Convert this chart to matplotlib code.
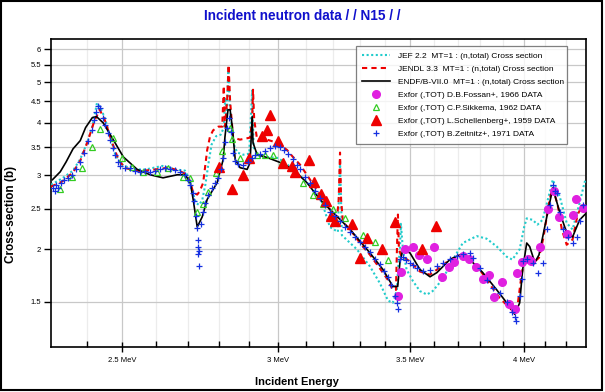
import matplotlib
matplotlib.use("Agg")
import matplotlib.pyplot as plt
from matplotlib.patches import Rectangle
from matplotlib.ticker import FixedLocator, NullFormatter, NullLocator

plt.rcParams['font.family'] = ['Liberation Sans', 'DejaVu Sans']

# ---- evaluated curves (MeV, barn) ----
jef_e = [2.30, 2.33, 2.36, 2.38, 2.40, 2.415, 2.427, 2.437, 2.45, 2.465, 2.48, 2.50, 2.53, 2.57,
         2.62, 2.66, 2.69, 2.705, 2.715, 2.725, 2.735, 2.745, 2.755, 2.765, 2.775, 2.79, 2.805,
         2.815, 2.82, 2.825, 2.83, 2.835, 2.845, 2.86, 2.88, 2.90, 2.91, 2.915, 2.93, 2.96, 3.00,
         3.05, 3.10, 3.15, 3.187, 3.217, 3.225, 3.232, 3.289, 3.340, 3.379, 3.411, 3.430, 3.447,
         3.451, 3.459, 3.463, 3.471, 3.486, 3.512, 3.541, 3.570, 3.594, 3.637, 3.680, 3.723,
         3.784, 3.828, 3.874, 3.919, 3.945, 3.979, 4.000, 4.012, 4.040, 4.063, 4.087, 4.121,
         4.136, 4.170, 4.204, 4.233, 4.268, 4.293, 4.30]
jef_s = [2.85, 2.95, 3.08, 3.28, 3.60, 3.95, 4.46, 4.35, 4.10, 3.70, 3.35, 3.18, 3.10, 3.10,
         3.16, 3.10, 3.08, 2.93, 2.72, 2.58, 2.55, 2.62, 2.85, 3.20, 3.55, 3.72, 3.75,
         3.90, 4.60, 4.20, 5.40, 4.40, 3.60, 3.40, 3.36, 3.38, 4.80, 3.50, 3.35, 3.32, 3.30,
         3.12, 2.90, 2.68, 2.26, 2.20, 3.27, 2.16, 2.00, 1.82, 1.66, 1.51, 1.49, 1.60,
         1.79, 2.00, 2.30, 2.00, 1.79, 1.68, 1.59, 1.56, 1.59, 1.70, 1.89, 2.07,
         2.15, 2.12, 2.03, 1.92, 1.89, 2.00, 2.26, 2.37, 2.35, 2.29, 2.35, 2.73,
         2.93, 2.67, 2.31, 2.23, 2.58, 2.89, 2.92]

jendl_e = [2.30, 2.33, 2.36, 2.38, 2.40, 2.42, 2.435, 2.45, 2.47, 2.49, 2.51, 2.55, 2.60, 2.64,
           2.67, 2.69, 2.705, 2.716, 2.729, 2.737, 2.748, 2.761, 2.770, 2.780, 2.797, 2.810,
           2.815, 2.819, 2.826, 2.831, 2.836, 2.846, 2.869, 2.903, 2.910, 2.913, 2.917, 2.927,
           2.961, 2.995, 3.031, 3.052, 3.078, 3.114, 3.150, 3.187, 3.214, 3.220, 3.225, 3.229,
           3.236, 3.263, 3.301, 3.340, 3.379, 3.411, 3.430, 3.443, 3.447, 3.451, 3.455, 3.463,
           3.499, 3.541, 3.582, 3.625, 3.667, 3.710, 3.753, 3.797, 3.843, 3.887, 3.933, 3.956,
           3.970, 3.988, 4.002, 4.026, 4.050, 4.070, 4.090, 4.121, 4.136, 4.160, 4.180, 4.204,
           4.233, 4.258, 4.283, 4.30]
jendl_s = [2.82, 2.90, 3.05, 3.25, 3.60, 4.05, 4.30, 4.05, 3.60, 3.25, 3.12, 3.07, 3.10, 3.13,
           3.08, 3.03, 2.92, 2.73, 2.70, 2.75, 2.88, 3.45, 3.71, 3.84, 3.92, 3.92,
           4.90, 3.92, 4.50, 5.50, 4.50, 3.69, 3.65, 3.69, 4.07, 4.80, 4.07, 3.65,
           3.65, 3.59, 3.45, 3.32, 3.18, 2.93, 2.70, 2.49, 2.38, 2.63, 3.40, 2.63,
           2.32, 2.23, 2.07, 1.94, 1.80, 1.69, 1.60, 1.60, 2.00, 2.42, 2.00, 1.94,
           1.87, 1.77, 1.74, 1.81, 1.89, 1.93, 1.91, 1.79, 1.65, 1.53, 1.45, 1.41,
           1.48, 1.74, 1.89, 1.91, 1.87, 1.91, 2.12, 2.63, 2.80, 2.55, 2.23, 2.05,
           2.11, 2.42, 2.55, 2.49]

endf_e = [2.304, 2.325, 2.341, 2.36, 2.380, 2.395, 2.414, 2.426, 2.445, 2.471, 2.503, 2.544,
          2.583, 2.622, 2.666, 2.691, 2.707, 2.716, 2.729, 2.745, 2.761, 2.793, 2.813, 2.819,
          2.829, 2.836, 2.843, 2.853, 2.869, 2.893, 2.903, 2.910, 2.913, 2.927, 2.961, 3.007,
          3.053, 3.103, 3.150, 3.187, 3.263, 3.340, 3.391, 3.431, 3.450, 3.459, 3.471, 3.500,
          3.541, 3.583, 3.612, 3.667, 3.710, 3.754, 3.811, 3.874, 3.933, 3.956, 3.979, 3.993,
          4.012, 4.026, 4.050, 4.070, 4.136, 4.170, 4.204, 4.233, 4.268, 4.298]
endf_s = [2.93, 3.06, 3.23, 3.47, 3.63, 3.90, 4.12, 4.14, 4.00, 3.68, 3.32, 3.10,
          3.01, 2.96, 3.01, 3.01, 2.88, 2.63, 2.26, 2.39, 2.63, 2.88, 3.27, 3.71,
          4.30, 4.30, 3.92, 3.27, 3.13, 3.10, 3.22, 4.14, 3.59, 3.36, 3.31, 3.22,
          3.10, 2.88, 2.63, 2.49, 2.23, 1.96, 1.79, 1.63, 1.63, 1.86, 2.00, 1.96,
          1.79, 1.72, 1.76, 1.89, 1.94, 1.89, 1.76, 1.60, 1.46, 1.40, 1.49, 1.79,
          2.07, 2.03, 1.86, 1.94, 2.80, 2.45, 2.19, 2.14, 2.35, 2.43]

# ---- EXFOR data ----
fossan_e = [3.453, 3.462, 3.480, 3.511, 3.538, 3.571, 3.599, 3.632, 3.664, 3.684, 3.725, 3.751,
            3.780, 3.810, 3.839, 3.861, 3.898, 3.930, 3.956, 3.967, 3.992, 4.018, 4.034, 4.074,
            4.113, 4.141, 4.166, 4.205, 4.235, 4.252, 4.285]
fossan_s = [1.55, 1.77, 2.00, 2.02, 1.94, 1.90, 2.03, 1.72, 1.81, 1.87, 1.93, 1.90,
            1.81, 1.70, 1.74, 1.54, 1.67, 1.48, 1.44, 1.76, 1.87, 1.90, 1.88, 2.03,
            2.49, 2.76, 2.39, 2.18, 2.41, 2.63, 2.51]

sikkema_e = [2.325, 2.358, 2.386, 2.414, 2.437, 2.474, 2.500, 2.529, 2.562, 2.604, 2.638, 2.685,
             2.707, 2.729, 2.748, 2.764, 2.790, 2.810, 2.836, 2.843, 2.869, 2.896, 2.927, 2.954,
             2.982, 3.013, 3.053, 3.089, 3.125, 3.161, 3.199, 3.244, 3.313, 3.360, 3.411]
sikkema_s = [2.79, 2.98, 3.13, 3.50, 3.86, 3.69, 3.30, 3.14, 3.06, 3.06, 3.13, 2.98,
             2.96, 2.45, 2.56, 2.74, 3.04, 3.42, 3.90, 3.66, 3.30, 3.27, 3.36, 3.36,
             3.36, 3.23, 3.13, 2.88, 2.70, 2.56, 2.49, 2.38, 2.16, 2.08, 1.89]

schell_e = [2.801, 2.842, 2.880, 2.900, 2.943, 2.960, 2.972, 3.000, 3.018, 3.048, 3.060, 3.111,
            3.128, 3.154, 3.172, 3.190, 3.207, 3.269, 3.301, 3.327, 3.386, 3.439, 3.548, 3.608]
schell_s = [3.14, 2.78, 3.00, 3.30, 3.73, 3.84, 4.17, 3.63, 3.21, 3.15, 3.05, 3.27,
            2.89, 2.71, 2.60, 2.40, 2.33, 2.30, 1.91, 2.13, 2.00, 2.32, 2.00, 2.27]

zeit_e = [2.305, 2.310, 2.314, 2.320, 2.326, 2.336, 2.347, 2.358, 2.369, 2.380, 2.391, 2.403,
          2.414, 2.420, 2.425, 2.431, 2.437, 2.444, 2.451, 2.458, 2.465, 2.472, 2.480, 2.487,
          2.494, 2.509, 2.523, 2.538, 2.553, 2.568, 2.583, 2.598, 2.613, 2.629, 2.644, 2.660,
          2.675, 2.691, 2.700, 2.707, 2.714, 2.720, 2.725, 2.728, 2.730, 2.732, 2.734, 2.731,
          2.735, 2.742, 2.748, 2.754, 2.764, 2.777, 2.787, 2.797, 2.806, 2.813, 2.819, 2.826,
          2.833, 2.839, 2.845, 2.851, 2.863, 2.879, 2.896, 2.910, 2.920, 2.937, 2.954, 2.972,
          2.989, 3.006, 3.020, 3.035, 3.052, 3.065, 3.078, 3.096, 3.114, 3.132, 3.150, 3.170,
          3.187, 3.205, 3.225, 3.245, 3.263, 3.282, 3.301, 3.320, 3.340, 3.360, 3.379, 3.395,
          3.411, 3.425, 3.439, 3.447, 3.452, 3.458, 3.471, 3.485, 3.499, 3.514, 3.528, 3.553,
          3.582, 3.611, 3.637, 3.667, 3.697, 3.723, 3.753, 3.767, 3.797, 3.828, 3.855, 3.887,
          3.919, 3.942, 3.956, 3.962, 3.979, 3.988, 3.993, 4.012, 4.040, 4.063, 4.087, 4.106,
          4.121, 4.136, 4.145, 4.155, 4.170, 4.184, 4.208, 4.233, 4.253, 4.268, 4.283]
zeit_s = [2.80, 2.76, 2.85, 2.80, 2.88, 2.92, 2.96, 3.01, 3.10, 3.22, 3.40, 3.62,
          3.85, 4.07, 4.25, 4.38, 4.33, 4.10, 3.95, 3.78, 3.65, 3.48, 3.36, 3.22,
          3.15, 3.13, 3.12, 3.08, 3.06, 3.08, 3.06, 3.08, 3.10, 3.13, 3.10, 3.09,
          3.06, 3.01, 2.93, 2.85, 2.73, 2.60, 2.40, 2.25, 2.10, 2.03, 1.98, 1.95,
          1.82, 2.30, 2.45, 2.58, 2.70, 2.80, 2.88, 2.96, 3.10, 3.30, 3.60, 3.90,
          4.10, 3.80, 3.40, 3.25, 3.20, 3.18, 3.22, 3.30, 3.36, 3.38, 3.42, 3.48,
          3.52, 3.50, 3.45, 3.38, 3.28, 3.18, 3.10, 2.98, 2.87, 2.75, 2.65, 2.55,
          2.45, 2.40, 2.33, 2.26, 2.20, 2.14, 2.08, 2.03, 1.97, 1.90, 1.84, 1.78,
          1.72, 1.64, 1.55, 1.49, 1.44, 1.90, 1.92, 1.89, 1.86, 1.83, 1.80, 1.78,
          1.79, 1.82, 1.86, 1.90, 1.93, 1.95, 1.96, 1.91, 1.80, 1.69, 1.62, 1.57,
          1.50, 1.42, 1.38, 1.35, 1.55, 1.70, 1.88, 1.90, 1.86, 1.76, 1.86, 2.23,
          2.55, 2.84, 2.75, 2.72, 2.45, 2.24, 2.14, 2.07, 2.14, 2.33, 2.55]

x_ticks = [2.5, 3.0, 3.5, 4.0]
x_ticklabels = ["2.5 MeV", "3 MeV", "3.5 MeV", "4 MeV"]
x_minor = [2.4, 2.6, 2.7, 2.8, 2.9, 3.1, 3.2, 3.3, 3.4, 3.6, 3.7, 3.8, 3.9, 4.1, 4.2]
y_ticks = [1.5, 2, 2.5, 3, 3.5, 4, 4.5, 5, 5.5, 6]
y_ticklabels = ["1.5", "2", "2.5", "3", "3.5", "4", "4.5", "5", "5.5", "6"]

fig = plt.figure(figsize=(6.05, 3.92), dpi=100)
ax = fig.add_axes([51/605, 45/392, 535/605, 308/392])
ax.set_xscale("log"); ax.set_yscale("log")

ax.plot(jef_e, jef_s, color="#22cccc", ls=(0, (1, 1.2)), lw=1.5, zorder=3,
        label="JEF 2.2  MT=1 : (n,total) Cross section")
ax.plot(jendl_e, jendl_s, color="#ee0000", ls=(0, (2.5, 2)), lw=1.5, zorder=3,
        label="JENDL 3.3  MT=1 : (n,total) Cross section")
ax.plot(endf_e, endf_s, color="black", lw=1.2, zorder=4,
        label="ENDF/B-VII.0  MT=1 : (n,total) Cross section")
ax.plot(fossan_e, fossan_s, "o", ms=5.5, color="#e020e0", mec="#e020e0", zorder=5,
        label="Exfor (,TOT) D.B.Fossan+, 1966 DATA")
ax.plot(sikkema_e, sikkema_s, "^", ms=4.5, mfc="none", mec="#33cc22", mew=0.9, zorder=5,
        label="Exfor (,TOT) C.P.Sikkema, 1962 DATA")
ax.plot(schell_e, schell_s, "^", ms=6.5, color="#ee0000", zorder=5,
        label="Exfor (,TOT) L.Schellenberg+, 1959 DATA")
ax.plot(zeit_e, zeit_s, "+", ms=4, mew=0.9, color="#1530e0", zorder=5,
        label="Exfor (,TOT) B.Zeitnitz+, 1971 DATA")

ax.set_xlim(2.30, 4.30)
ax.set_ylim(1.17, 6.34)
ax.xaxis.set_major_locator(FixedLocator(x_ticks))
ax.xaxis.set_minor_locator(FixedLocator(x_minor))
ax.set_xticklabels(x_ticklabels)
ax.xaxis.set_minor_formatter(NullFormatter())
ax.yaxis.set_major_locator(FixedLocator(y_ticks))
ax.yaxis.set_minor_locator(NullLocator())
ax.set_yticklabels(y_ticklabels)

ax.grid(True, which="major", color="#c8c8c8", lw=0.9, zorder=0)
ax.grid(True, which="minor", axis="x", color="#ececec", lw=0.9, zorder=0)
ax.set_axisbelow(True)
ax.tick_params(axis="x", which="major", direction="inout", length=7, width=1, labelsize=5.5, pad=4)
ax.tick_params(axis="x", which="minor", direction="in", length=4, width=1)
ax.tick_params(axis="y", which="major", direction="out", length=5, width=1, labelsize=5.5, pad=2)
for s in ax.spines.values():
    s.set_linewidth(1.2)

ax.set_xlabel("Incident Energy", fontsize=8, fontweight="bold")
ax.xaxis.set_label_coords(0.46, -0.097)
ax.set_ylabel("Cross-section (b)", fontsize=8.5, fontweight="bold")
ax.yaxis.set_label_coords(-0.064, 0.43)
fig.text(0.5, 1 - 16/392, "Incident neutron data / / N15 / /", ha="center", va="center",
         color="#1010cc", fontsize=9.8, fontweight="bold")

leg = ax.legend(loc="upper left", bbox_to_anchor=(0.570, 0.9675, 0.3945, 0.01), mode="expand",
                borderaxespad=0, fontsize=6.0, frameon=True, fancybox=False, handlelength=3.3,
                labelspacing=0.62, handletextpad=1.0, borderpad=0.75)
leg.get_frame().set_edgecolor("#606060")
leg.get_frame().set_linewidth(0.9)

fig.patches.append(Rectangle((0.5/605, 2/392), 601.5/605, 389.5/392, transform=fig.transFigure,
                             fill=False, edgecolor="black", lw=1.5))

fig.savefig("out.png", dpi=100, facecolor="white")
